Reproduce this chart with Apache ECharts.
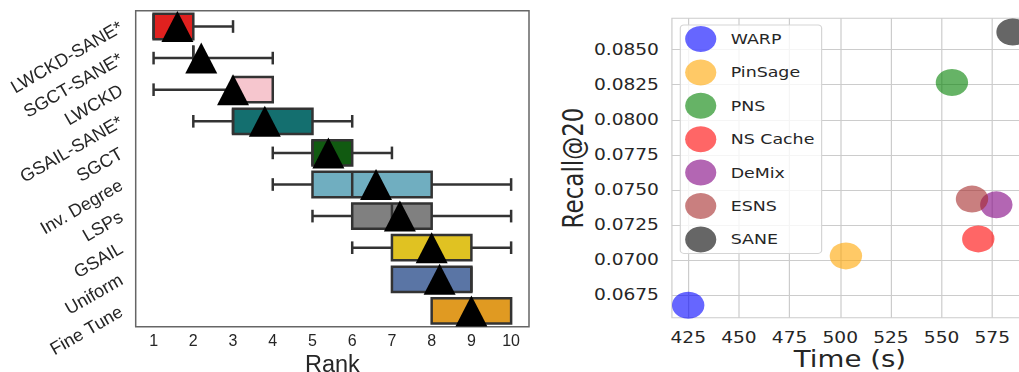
<!DOCTYPE html>
<html>
<head>
<meta charset="utf-8">
<script src="https://cdn.jsdelivr.net/npm/echarts@6/dist/echarts.min.js"></script>
<style>
  html, body { margin: 0; padding: 0; background: #fff; overflow: hidden; width: 1019px; height: 372px; }
  #rank { position: absolute; left: 0; top: 0; width: 550px; height: 372px; }
  /* right panel is stretched sideways in the original figure */
  #recall { position: absolute; left: 550px; top: 0; width: 410px; height: 372px; transform: scaleX(1.2); transform-origin: 0 0; }
</style>
</head>
<body>
<div id="rank"></div>
<div id="recall"></div>
<script>
// ---- left panel: rank boxplots ----
const methods = ['LWCKD-SANE*', 'SGCT-SANE*', 'LWCKD', 'GSAIL-SANE*', 'SGCT',
                 'Inv. Degree', 'LSPs', 'GSAIL', 'Uniform', 'Fine Tune'];
const whiskerLow  = [1, 1, 1, 2, 4, 4, 5, 6, 7, 8];
const q1          = [1, 2, 3, 3, 5, 5, 6, 7, 7, 8];
const median      = [1, 2, 3, 3, 5, 6, 7, 8, 9, 9];
const q3          = [2, 2, 4, 5, 6, 8, 8, 9, 9, 10];
const whiskerHigh = [3, 4, 4, 6, 7, 10, 10, 10, 9, 10];
const meanRank    = [1.6, 2.2, 3.0, 3.8, 5.4, 6.6, 7.2, 8.0, 8.2, 9.0];
const rankTicks   = [1, 2, 3, 4, 5, 6, 7, 8, 9, 10];
const boxColors = ['#E0211F', '#E0211F', '#F6C6CE', '#146F6F', '#115A11',
                   '#70AEC0', '#808080', '#E0C222', '#5A75A5', '#E09A22'];

// ---- right panel: recall vs time ----
const models   = ['WARP', 'PinSage', 'PNS', 'NS Cache', 'DeMix', 'ESNS', 'SANE'];
const timeSec  = [425, 502.8, 555.1, 568.1, 577, 565, 585];
const recall20 = [0.06677, 0.07029, 0.08266, 0.0715, 0.07393, 0.07434, 0.08626];
const timeTicks   = [425, 450, 475, 500, 525, 550, 575];
const recallTicks = [0.0675, 0.07, 0.0725, 0.075, 0.0775, 0.08, 0.0825, 0.085];
const modelColors = ['rgba(0,0,255,0.6)', 'rgba(255,165,0,0.6)', 'rgba(0,128,0,0.6)',
                     'rgba(255,0,0,0.6)', 'rgba(128,0,128,0.6)', 'rgba(165,42,42,0.6)',
                     'rgba(0,0,0,0.6)'];

const ink = '#262626';
const edge = '#333333';

function renderBox(params, api) {
  const i = api.value(0);
  const lo = api.value(1), a = api.value(2), m = api.value(3), b = api.value(4), hi = api.value(5);
  const h = api.size([0, 1])[1] * 0.8;
  const pLo = api.coord([lo, i]), pA = api.coord([a, i]), pM = api.coord([m, i]);
  const pB = api.coord([b, i]), pHi = api.coord([hi, i]);
  const y = pA[1];
  const line = { stroke: edge, lineWidth: 2.5 };
  const kids = [];
  if (lo < a) {
    kids.push({ type: 'line', shape: { x1: pLo[0], y1: y, x2: pA[0], y2: y }, style: line });
    kids.push({ type: 'line', shape: { x1: pLo[0], y1: y - h / 4, x2: pLo[0], y2: y + h / 4 }, style: line });
  }
  if (hi > b) {
    kids.push({ type: 'line', shape: { x1: pB[0], y1: y, x2: pHi[0], y2: y }, style: line });
    kids.push({ type: 'line', shape: { x1: pHi[0], y1: y - h / 4, x2: pHi[0], y2: y + h / 4 }, style: line });
  }
  kids.push({ type: 'rect', shape: { x: pA[0], y: y - h / 2, width: pB[0] - pA[0], height: h },
              style: { fill: boxColors[i], stroke: edge, lineWidth: 2.5 } });
  kids.push({ type: 'line', shape: { x1: pM[0], y1: y - h / 2, x2: pM[0], y2: y + h / 2 }, style: line });
  return { type: 'group', children: kids };
}

const rankChart = echarts.init(document.getElementById('rank'));
rankChart.setOption({
  animation: false,
  textStyle: { fontFamily: 'Liberation Sans' },
  grid: { left: 135.7, top: 10.7, width: 393.3, height: 316, show: true, outerBoundsMode: 'none',
          borderColor: '#666', borderWidth: 1.5, backgroundColor: '#fff' },
  xAxis: {
    type: 'value', min: 0.55, max: 10.45,
    name: 'Rank', nameLocation: 'middle', nameGap: 26.5, nameMoveOverlap: false,
    nameTextStyle: { fontSize: 23.5, color: ink, fontFamily: 'Liberation Sans' },
    axisLine: { show: false }, axisTick: { show: false }, splitLine: { show: false },
    axisLabel: { customValues: rankTicks, fontSize: 16, color: ink, margin: 7 }
  },
  yAxis: {
    type: 'category', data: methods, inverse: true,
    axisLine: { show: false }, axisTick: { show: false }, splitLine: { show: false },
    axisLabel: { rotate: 30, fontSize: 18, color: ink, margin: 14 }
  },
  series: [
    {
      type: 'custom',
      renderItem: renderBox,
      encode: { x: [1, 2, 3, 4, 5], y: 0 },
      data: methods.map((_, i) => [i, whiskerLow[i], q1[i], median[i], q3[i], whiskerHigh[i]])
    },
    {
      type: 'scatter', symbol: 'triangle', symbolSize: [32, 31], z: 5,
      itemStyle: { color: '#000', opacity: 1 },
      data: meanRank.map((v, i) => [v, i])
    }
  ]
});

const recallChart = echarts.init(document.getElementById('recall'), null, { renderer: 'svg' });
recallChart.setOption({
  animation: false,
  textStyle: { fontFamily: 'DejaVu Sans' },
  grid: { left: 101.6, top: 18.3, right: 11.7, height: 299.4, show: true, outerBoundsMode: 'none',
          borderColor: '#cccccc', borderWidth: 1 },
  legend: {
    orient: 'vertical', left: 108.6, top: 25,
    itemWidth: 30, itemHeight: 26, itemGap: 7.4, icon: 'circle',
    padding: [1, 6, 1, 4],
    backgroundColor: 'rgba(255,255,255,0.8)', borderColor: '#d5d5d5', borderWidth: 1, borderRadius: 3,
    textStyle: { fontSize: 14.5, color: ink, padding: [0, 0, 0, 5] },
    data: models
  },
  xAxis: {
    type: 'value', min: 416.95, max: 592.6,
    name: 'Time (s)', nameLocation: 'middle', nameGap: 29.5, nameMoveOverlap: false,
    nameTextStyle: { fontSize: 23, color: ink },
    axisLine: { show: false },
    axisTick: { show: false, customValues: timeTicks },
    axisLabel: { customValues: timeTicks, fontSize: 15.5, color: ink, margin: 11.5 },
    splitLine: { show: true, lineStyle: { color: '#cccccc', width: 1 } }
  },
  yAxis: {
    type: 'value', min: 0.06588, max: 0.08724,
    name: 'Recall@20', nameLocation: 'middle', nameGap: 70.5, nameMoveOverlap: false,
    nameTextStyle: { fontSize: 23, color: ink },
    axisLine: { show: false },
    axisTick: { show: false, customValues: recallTicks },
    axisLabel: { customValues: recallTicks, fontSize: 15.5, color: ink, margin: 10.8,
                 formatter: v => v.toFixed(4) },
    splitLine: { show: true, lineStyle: { color: '#cccccc', width: 1 } }
  },
  series: models.map((name, i) => ({
    name: name, type: 'scatter', symbol: 'circle', symbolSize: 27,
    itemStyle: { color: modelColors[i], opacity: 1 },
    data: [[timeSec[i], recall20[i]]]
  }))
});
</script>
</body>
</html>
